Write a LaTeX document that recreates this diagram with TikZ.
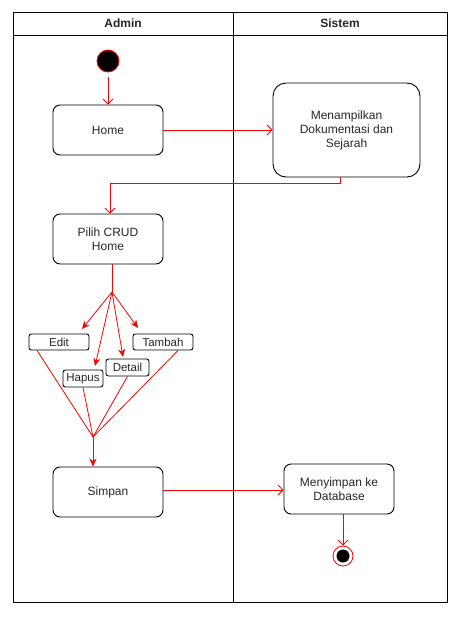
\documentclass[tikz,border=0pt]{standalone}
\usepackage{fontspec}
\setmainfont{Liberation Sans}
\usetikzlibrary{arrows.meta}
\begin{document}
\begin{tikzpicture}[x=1pt,y=-1pt,
  every node/.style={font=\fontsize{12}{14}\selectfont, text=black!85},
  act/.style={draw=black, line width=0.9pt, rounded corners=7pt, align=center, inner sep=2pt},
  lbl/.style={draw=black, line width=0.9pt, rounded corners=2.5pt, inner sep=0pt, font=\fontsize{11.5}{13}\selectfont},
  flow/.style={draw=red, line width=0.8pt, -{Straight Barb[length=5pt,width=10pt]}},
  fork/.style={draw=red, line width=0.8pt, -{Stealth[length=8pt,width=7pt,inset=2.5pt]}},
  plain/.style={draw=red, line width=0.8pt},
  lane/.style={draw=black, line width=0.9pt}]
\useasboundingbox (0,0) rectangle (461,621);
% swimlanes
\draw[lane] (13,12) rectangle (447,602);
\draw[lane] (13,35) -- (447,35);
\draw[lane] (233,12) -- (233,602);
\node[font=\bfseries\fontsize{12}{14}\selectfont] (hadmin) at (123,23.5) {Admin};
\node[font=\bfseries\fontsize{12}{14}\selectfont] (hsistem) at (340,23.5) {Sistem};
% nodes
\node[circle, fill=black, draw=red, line width=0.8pt, minimum size=22pt, inner sep=0pt] (init) at (108,61) {};
\node[act, minimum width=110pt, minimum height=50pt] (home) at (108,130) {Home};
\node[act, rounded corners=13pt, minimum width=147pt, minimum height=94pt] (menam) at (346.5,130) {Menampilkan\\Dokumentasi dan\\Sejarah};
\node[act, minimum width=110pt, minimum height=50pt] (pilih) at (108,239) {Pilih CRUD\\Home};
\node[lbl, minimum width=60pt, minimum height=16pt] (edit) at (59,342) {Edit};
\node[lbl, minimum width=40pt, minimum height=17pt] (hapus) at (83,378.5) {Hapus};
\node[lbl, minimum width=43pt, minimum height=17pt] (detail) at (127.5,367.5) {Detail};
\node[lbl, minimum width=60pt, minimum height=16pt] (tambah) at (163,342) {Tambah};
\node[act, minimum width=110pt, minimum height=50pt] (simpan) at (108,492) {Simpan};
\node[act, minimum width=110pt, minimum height=50pt] (menyimpan) at (339,489) {Menyimpan ke\\Database};
\node[circle, draw=red, fill=white, line width=0.8pt, minimum size=20pt, inner sep=0pt] (final) at (343,556) {};
\node[circle, fill=black, minimum size=13pt, inner sep=0pt] (finalin) at (343,556) {};
% coordinates
\coordinate (forkpt) at (112,292);
\coordinate (joinpt) at (93,437);
\coordinate (tedit) at (82,329);
\coordinate (thapus) at (95,366);
\coordinate (tdetail) at (123,357);
\coordinate (ttambah) at (138,328);
% connectors
\draw[flow, shorten <=5pt] (init) -- (home);
\draw[flow] (home.east) -- (menam.west |- home.east);
\draw[flow] ([xshift=-6.5pt]menam.south) -- ++(0,6) -| ([xshift=2pt]pilih.north);
\draw[plain] (forkpt |- pilih.south) -- (forkpt);
\draw[fork] (forkpt) -- (tedit);
\draw[fork] (forkpt) -- (thapus);
\draw[fork] (forkpt) -- (tdetail);
\draw[fork] (forkpt) -- (ttambah);
\draw[plain] ([xshift=-22pt]edit.south) -- (joinpt);
\draw[plain] (hapus.south) -- (joinpt);
\draw[plain] (detail.south) -- (joinpt);
\draw[plain] ([xshift=15pt]tambah.south) -- (joinpt);
\draw[fork] (joinpt) -- (joinpt |- simpan.north);
\draw[flow] (simpan.east |- 0,490) -- (menyimpan.west |- 0,490);
\draw[flow] (final |- menyimpan.south) -- (final.north);
\end{tikzpicture}
\end{document}
